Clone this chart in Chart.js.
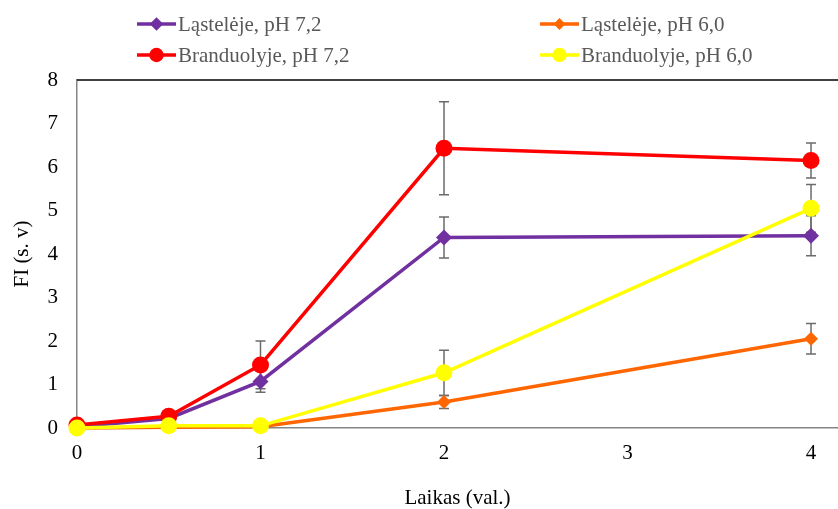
<!DOCTYPE html>
<html>
<head>
<meta charset="utf-8">
<script src="https://cdn.jsdelivr.net/npm/chart.js@4"></script>
<style>
  html, body { margin: 0; padding: 0; background: #fff; }
  #wrap { width: 838px; height: 509px; }
</style>
</head>
<body>
<div id="wrap"><canvas id="fiChart" width="838" height="509"></canvas></div>
<script>
// time points (val.)
const hours = [0, 0.5, 1, 2, 4]
const xTicks = [0, 1, 2, 3, 4]

const cellsPh72 = [0.03, 0.22, 1.07, 4.38, 4.42]
const cellsPh72Err = [0, 0, 0.25, 0.47, 0.46]
const cellsPh60 = [0, 0.02, 0.03, 0.6, 2.05]
const cellsPh60Err = [0, 0, 0, 0.15, 0.35]
const nucleiPh72 = [0.07, 0.27, 1.45, 6.43, 6.15]
const nucleiPh72Err = [0, 0, 0.55, 1.07, 0.4]
const nucleiPh60 = [0, 0.05, 0.05, 1.27, 5.05]
const nucleiPh60Err = [0, 0, 0, 0.52, 0.55]

const labels = ['Ląstelėje, pH 7,2', 'Ląstelėje, pH 6,0', 'Branduolyje, pH 7,2', 'Branduolyje, pH 6,0']

const font = 'Liberation Serif, Times New Roman, serif'

function pts(ys) {
    return hours.map((h, i) => ({x: h, y: ys[i]}))
}

function makeSet(i, ys, errs, color, shape, r, order) {
    return {
        label: labels[i],
        data: pts(ys),
        errors: errs,
        borderColor: color,
        backgroundColor: color,
        borderWidth: 3.5,
        pointStyle: shape,
        pointRadius: r,
        pointBorderWidth: 0,
        tension: 0,
        clip: false,
        order: order
    }
}

// whiskers, drawn under the lines
const errorBars = {
    id: 'errorBars',
    beforeDatasetsDraw(chart) {
        const ctx = chart.ctx
        const xs = chart.scales.x, ys = chart.scales.y
        ctx.save()
        ctx.strokeStyle = '#6b6b6b'
        ctx.lineWidth = 1.5
        chart.data.datasets.forEach(ds => {
            ds.data.forEach((p, i) => {
                const e = ds.errors[i]
                if (!e) return
                const px = xs.getPixelForValue(p.x)
                const top = ys.getPixelForValue(p.y + e)
                const bot = ys.getPixelForValue(p.y - e)
                ctx.beginPath()
                ctx.moveTo(px, top); ctx.lineTo(px, bot)
                ctx.moveTo(px - 5, top); ctx.lineTo(px + 5, top)
                ctx.moveTo(px - 5, bot); ctx.lineTo(px + 5, bot)
                ctx.stroke()
            })
        })
        ctx.restore()
    }
}

// top frame line + two-column legend
const frameAndLegend = {
    id: 'frameAndLegend',
    afterDraw(chart) {
        const ctx = chart.ctx
        const a = chart.chartArea
        ctx.save()
        ctx.strokeStyle = '#000'
        ctx.lineWidth = 1.5
        ctx.beginPath()
        ctx.moveTo(a.left, a.top)
        ctx.lineTo(chart.width, a.top)
        ctx.stroke()

        const slots = [[137, 24], [540, 24], [137, 55], [540, 55]]
        const byLabel = {}
        chart.data.datasets.forEach(ds => byLabel[ds.label] = ds)
        labels.forEach((lab, i) => {
            const ds = byLabel[lab]
            const [lx, ly] = slots[i]
            ctx.strokeStyle = ds.borderColor
            ctx.lineWidth = 3.5
            ctx.beginPath()
            ctx.moveTo(lx, ly); ctx.lineTo(lx + 39, ly)
            ctx.stroke()
            ctx.fillStyle = ds.backgroundColor
            Chart.helpers.drawPoint(ctx, {pointStyle: ds.pointStyle, radius: ds.pointRadius * 0.85, borderWidth: 0}, lx + 19.5, ly)
            ctx.fillStyle = '#595959'
            ctx.font = '21px ' + font
            ctx.textBaseline = 'middle'
            ctx.textAlign = 'left'
            ctx.fillText(lab, lx + 41, ly + 1)
        })
        ctx.restore()
    }
}

new Chart(document.getElementById('fiChart'), {
    type: 'line',
    data: {
        datasets: [
            makeSet(0, cellsPh72, cellsPh72Err, '#7030A0', 'rectRot', 8, 3),
            makeSet(1, cellsPh60, cellsPh60Err, '#FF6600', 'rectRot', 7, 2),
            makeSet(2, nucleiPh72, nucleiPh72Err, '#FF0000', 'circle', 8.5, 1),
            makeSet(3, nucleiPh60, nucleiPh60Err, '#FFFF00', 'circle', 8.5, 0)
        ]
    },
    options: {
        responsive: false,
        animation: false,
        layout: {autoPadding: false, padding: {top: 80, right: 0, left: 0, bottom: 0}},
        plugins: {
            legend: {display: false},
            tooltip: {enabled: false}
        },
        scales: {
            x: {
                type: 'linear',
                min: 0,
                max: 4.147,
                afterBuildTicks: s => { s.ticks = xTicks.map(v => ({value: v})) },
                afterFit: s => { s.height = 81 },
                grid: {display: false, drawTicks: false},
                border: {display: true, color: '#868686', width: 1.5},
                ticks: {color: '#000', padding: 13, font: {family: font, size: 21}},
                title: {
                    display: true,
                    text: 'Laikas (val.)',
                    color: '#000',
                    padding: {top: 0, bottom: 0},
                    font: {family: font, size: 21, lineHeight: 1}
                }
            },
            y: {
                min: 0,
                max: 8,
                afterFit: s => { s.width = 77 },
                grid: {display: false, drawTicks: false},
                border: {display: true, color: '#868686', width: 1.5},
                ticks: {stepSize: 1, color: '#000', padding: 19, font: {family: font, size: 21}},
                title: {
                    display: true,
                    text: 'FI (s. v)',
                    color: '#000',
                    padding: {top: 12, bottom: 0},
                    font: {family: font, size: 21, lineHeight: 1}
                }
            }
        }
    },
    plugins: [errorBars, frameAndLegend]
})
</script>
</body>
</html>
